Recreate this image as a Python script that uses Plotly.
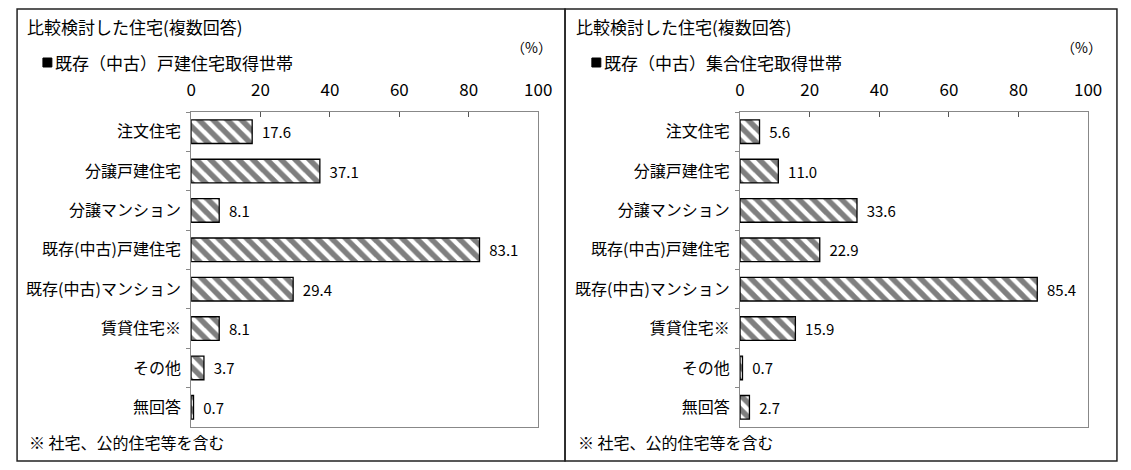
import plotly.graph_objects as go

categories = ['注文住宅', '分譲戸建住宅', '分譲マンション', '既存(中古)戸建住宅',
              '既存(中古)マンション', '賃貸住宅※', 'その他', '無回答']
detached_vals = [17.6, 37.1, 8.1, 83.1, 29.4, 8.1, 3.7, 0.7]
condo_vals = [5.6, 11.0, 33.6, 22.9, 85.4, 15.9, 0.7, 2.7]
panel_title = '比較検討した住宅(複数回答)'
series_names = ['既存（中古）戸建住宅取得世帯', '既存（中古）集合住宅取得世帯']
note = '※ 社宅、公的住宅等を含む'
x_ticks = [0, 20, 40, 60, 80, 100]

# page body has an 8px margin; the photo comes out a little narrower than the page
OFF = 8
KX = 1.0115
W, H = 1128, 454
FONT = 'Noto Sans CJK JP'


def px_x(x):
    return (x * KX - OFF) / W


def px_y(y):
    return 1 - (y - OFF) / H


fig = go.Figure()

bar_style = dict(
    orientation='h',
    width=0.6,
    marker=dict(color='white', line=dict(color='black', width=1.3),
                pattern=dict(shape='\\', fgcolor='black', bgcolor='white', size=10, solidity=0.55)),
    texttemplate='  %{x:.1f}',
    textposition='outside',
    textfont=dict(family=FONT, size=15, color='black'),
    cliponaxis=False,
    showlegend=False,
)
fig.add_trace(go.Bar(x=detached_vals, y=categories, xaxis='x', yaxis='y', **bar_style))
fig.add_trace(go.Bar(x=condo_vals, y=categories, xaxis='x2', yaxis='y2', **bar_style))

xax = dict(range=[0, 100], tickvals=x_ticks, side='top', ticks='inside', ticklen=5,
           tickcolor='#555', showgrid=False, zeroline=False, showline=True, mirror=True,
           linecolor='#888', linewidth=1, ticklabelstandoff=8,
           tickfont=dict(family=FONT, size=17, color='black'), fixedrange=True)
yax = dict(categoryorder='array', categoryarray=categories, autorange='reversed',
           ticks='outside', ticklen=4, tickcolor='#888', tickson='boundaries',
           showline=True, mirror=True, linecolor='#888', linewidth=1, showgrid=False,
           ticklabelstandoff=6, tickfont=dict(family=FONT, size=16, color='black'), fixedrange=True)

top, bottom = px_y(112), px_y(427)
fig.update_layout(
    width=W, height=H,
    margin=dict(l=0, r=0, t=0, b=0),
    paper_bgcolor='white', plot_bgcolor='white',
    xaxis=dict(domain=[px_x(187), px_x(536)], anchor='y', **xax),
    yaxis=dict(domain=[bottom, top], anchor='x', **yax),
    xaxis2=dict(domain=[px_x(739), px_x(1089)], anchor='y2', **xax),
    yaxis2=dict(domain=[bottom, top], anchor='x2', **yax),
)

# panel frames
line = dict(color='#222', width=1.5)
for x0, x1 in [(12, 563), (563, 1118)]:
    fig.add_shape(type='rect', xref='paper', yref='paper',
                  x0=px_x(x0), x1=px_x(x1), y0=px_y(461), y1=px_y(9), line=line)

for left, name, pct_x in [(20, series_names[0], 529), (572, series_names[1], 1082)]:
    fig.add_annotation(text=panel_title, x=px_x(left), y=px_y(27), xref='paper', yref='paper',
                       xanchor='left', yanchor='middle', showarrow=False,
                       font=dict(family=FONT, size=17, color='black'))
    fig.add_annotation(text='（%）', x=px_x(pct_x), y=px_y(47), xref='paper', yref='paper',
                       xanchor='center', yanchor='middle', showarrow=False,
                       font=dict(family=FONT, size=14, color='black'))
    fig.add_shape(type='rect', xref='paper', yref='paper',
                  x0=px_x(left + 18), x1=px_x(left + 27), y0=px_y(67), y1=px_y(58),
                  line=dict(color='black', width=1), fillcolor='black')
    fig.add_annotation(text=name, x=px_x(left + 28), y=px_y(62), xref='paper', yref='paper',
                       xanchor='left', yanchor='middle', showarrow=False,
                       font=dict(family=FONT, size=17, color='black'))
    fig.add_annotation(text=note, x=px_x(left + 2), y=px_y(442), xref='paper', yref='paper',
                       xanchor='left', yanchor='middle', showarrow=False,
                       font=dict(family=FONT, size=16, color='black'))

fig.write_html('out.html')
